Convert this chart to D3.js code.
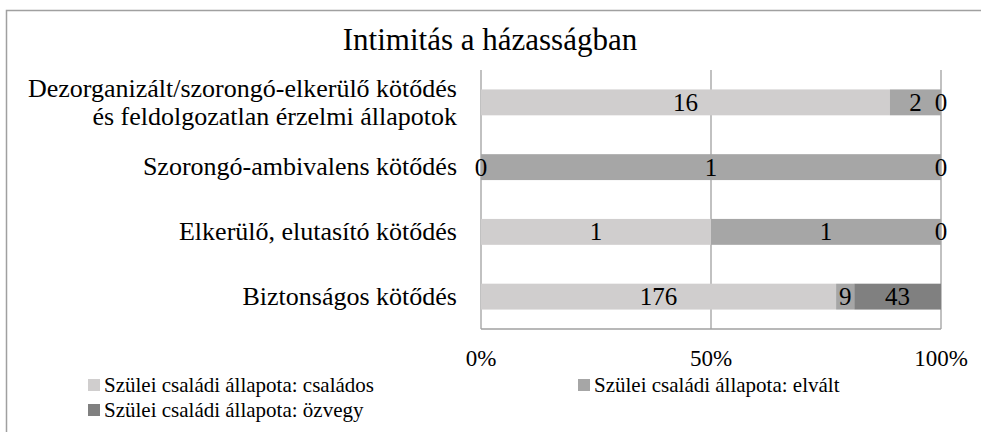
<!doctype html>
<html>
<head>
    <meta charset="UTF-8">
    <script src="https://cdnjs.cloudflare.com/ajax/libs/d3/7.0.0/d3.min.js"></script>
</head>
<body style="margin:0">

<div id="Area" style="position:relative;width:981px;height:432px">
    <div id="title" style="font-family:'Liberation Serif';font-size:31px;line-height:31px;position:absolute;left:0;top:24px;width:980px;text-align:center;color:#000">Intimitás a házasságban</div>
</div>

<script>

    // categories, top to bottom
    const categories = [
        ["Dezorganizált/szorongó-elkerülő kötődés", "és feldolgozatlan érzelmi állapotok"],
        ["Szorongó-ambivalens kötődés"],
        ["Elkerülő, elutasító kötődés"],
        ["Biztonságos kötődés"]
    ];
    const seriesNames = [
        "Szülei családi állapota: családos",
        "Szülei családi állapota: elvált",
        "Szülei családi állapota: özvegy"
    ];
    const csalados = [16, 0, 1, 176];
    const elvalt = [2, 1, 1, 9];
    const ozvegy = [0, 0, 0, 43];
    const tickLabels = ["0%", "50%", "100%"];
    const colors = ["#d0cece", "#a6a6a6", "#808080"];

    const width = 981, height = 432;
    const margin = {top: 70, right: 40, bottom: 103, left: 481};
    const FONT = "Liberation Serif";

    const svg = d3.select("#Area")
        .insert("svg", "#title")
        .attr("width", width)
        .attr("height", height)
        .style("position", "absolute")
        .style("left", 0)
        .style("top", 0);

    // outer frame
    svg.append("rect")
        .attr("x", 6.5).attr("y", 10.5)
        .attr("width", 990).attr("height", 440)
        .attr("fill", "none")
        .attr("stroke", "#a0a0a0")
        .attr("stroke-width", 1.5);

    const rows = categories.map((c, i) => {
        const vals = [csalados[i], elvalt[i], ozvegy[i]];
        const total = d3.sum(vals);
        let acc = 0;
        return {
            label: c,
            segs: vals.map((v, j) => {
                const s = {value: v, x0: acc / total, x1: (acc + v) / total, k: j};
                acc += v;
                return s;
            })
        };
    });

    const x = d3.scaleLinear()
        .domain([0, 1])
        .range([margin.left, width - margin.right]);

    const y = d3.scaleBand()
        .domain(d3.range(categories.length))
        .range([margin.top, height - margin.bottom])
        .paddingInner(0.6)
        .paddingOuter(0.3);

    // gridlines
    svg.append("g")
        .selectAll("line")
        .data([0, 0.5, 1])
        .join("line")
        .attr("x1", d => x(d)).attr("x2", d => x(d))
        .attr("y1", margin.top).attr("y2", height - margin.bottom)
        .attr("stroke", "#a0a0a0")
        .attr("stroke-width", 1.3);

    svg.append("line")
        .attr("x1", x(0)).attr("x2", x(1))
        .attr("y1", height - margin.bottom).attr("y2", height - margin.bottom)
        .attr("stroke", "#a0a0a0")
        .attr("stroke-width", 1.3);

    // bars
    const rowG = svg.append("g")
        .selectAll("g")
        .data(rows)
        .join("g")
        .attr("transform", (d, i) => "translate(0," + y(i) + ")");

    rowG.selectAll("rect")
        .data(d => d.segs)
        .join("rect")
        .attr("x", d => x(d.x0))
        .attr("width", d => x(d.x1) - x(d.x0))
        .attr("y", 0)
        .attr("height", y.bandwidth())
        .attr("fill", d => colors[d.k]);

    rowG.selectAll("text.val")
        .data(d => d.segs)
        .join("text")
        .attr("class", "val")
        .attr("x", d => (x(d.x0) + x(d.x1)) / 2)
        .attr("y", y.bandwidth() / 2 + 8.5)
        .attr("text-anchor", "middle")
        .attr("font-family", FONT)
        .attr("font-size", 25)
        .text(d => d.value);

    // category labels
    svg.append("g")
        .selectAll("text")
        .data(rows)
        .join("text")
        .attr("x", margin.left - 24)
        .attr("y", (d, i) => y(i) + y.bandwidth() / 2 + 8 - (d.label.length - 1) * 13.5)
        .attr("text-anchor", "end")
        .attr("font-family", FONT)
        .attr("font-size", 26)
        .selectAll("tspan")
        .data(d => d.label)
        .join("tspan")
        .attr("x", d => margin.left - 24)
        .attr("dy", (d, i) => i === 0 ? 0 : 28)
        .text(d => d);

    // x tick labels
    svg.append("g")
        .selectAll("text")
        .data([0, 0.5, 1])
        .join("text")
        .attr("x", d => x(d))
        .attr("y", 366)
        .attr("text-anchor", "middle")
        .attr("font-family", FONT)
        .attr("font-size", 23)
        .text((d, i) => tickLabels[i]);

    // legend
    const legendPos = [[88, 379], [578, 379], [88, 404]];
    const leg = svg.append("g")
        .selectAll("g")
        .data(seriesNames)
        .join("g")
        .attr("transform", (d, i) => "translate(" + legendPos[i][0] + "," + legendPos[i][1] + ")");

    leg.append("rect")
        .attr("width", 12).attr("height", 12)
        .attr("fill", (d, i) => colors[i]);

    leg.append("text")
        .attr("x", 16).attr("y", 13)
        .attr("font-family", FONT)
        .attr("font-size", 21)
        .text(d => d);

</script>
</body>
</html>
